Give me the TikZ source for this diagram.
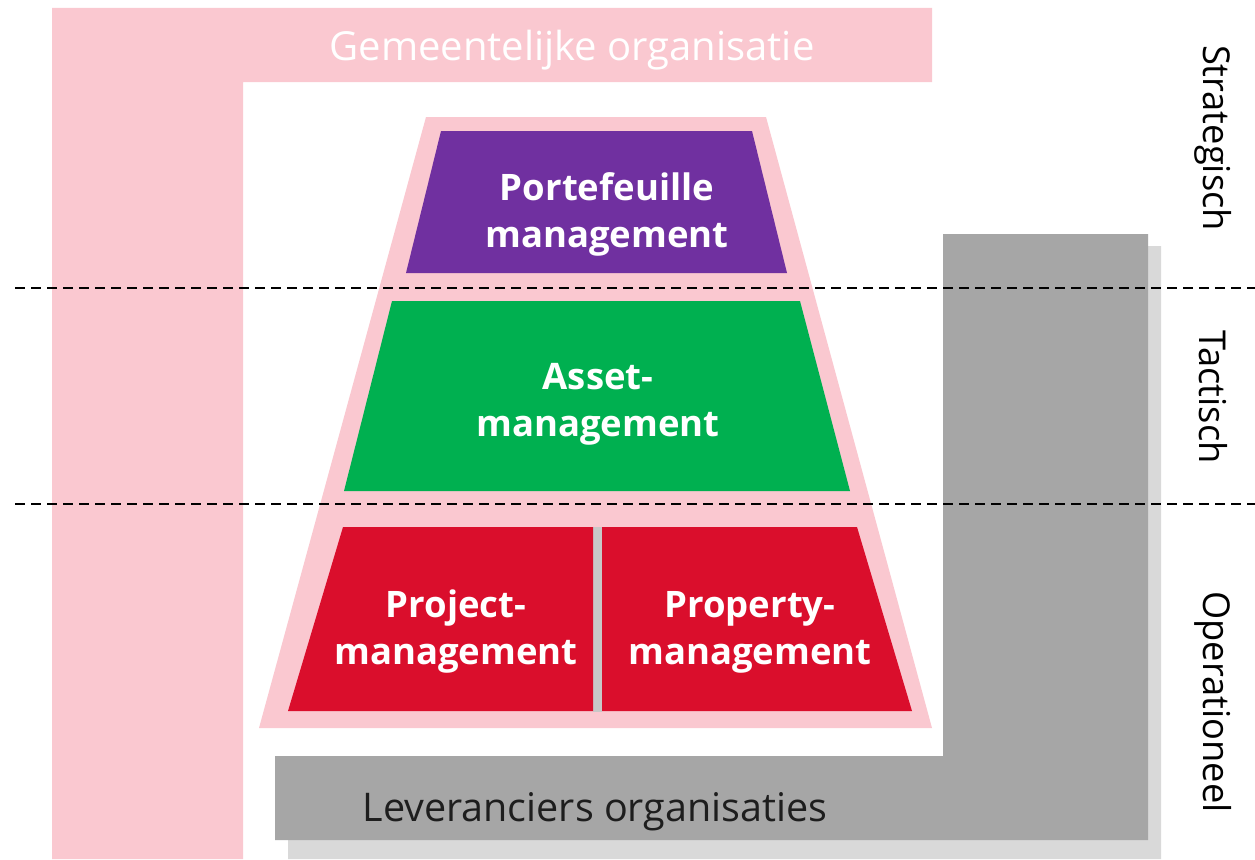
\documentclass[tikz,border=0pt]{standalone}
\usepackage{fontspec}
\setmainfont{Open Sans}
\usetikzlibrary{calc}
\definecolor{pinkbg}{RGB}{250,200,208}
\definecolor{purplebox}{RGB}{112,48,160}
\definecolor{greenbox}{RGB}{0,176,80}
\definecolor{redbox}{RGB}{218,14,44}
\definecolor{graybar}{RGB}{166,166,166}
\definecolor{grayshadow}{RGB}{217,217,217}
\definecolor{gapgray}{RGB}{200,200,200}
\definecolor{darktext}{RGB}{30,30,30}
\tikzset{
  boxtext/.style={text=white, align=center, font=\fontsize{36.5}{47}\selectfont\bfseries, inner sep=0pt},
  bartext/.style={inner sep=0pt},
  sidelabel/.style={rotate=-90, font=\fontsize{37}{44}\selectfont, inner sep=0pt, text=black},
  levelline/.style={dashed, dash pattern=on 10pt off 6pt, line width=1.5pt, black}
}
\begin{document}
\begin{tikzpicture}[x=1pt,y=-1pt]
\useasboundingbox (0,0) rectangle (1255,859);
\fill[white] (0,0) rectangle (1255,859);
% pink L (gemeentelijke organisatie)
\fill[pinkbg] (52,8) -- (932,8) -- (932,82) -- (243,82) -- (243,859) -- (52,859) -- cycle;
\node[bartext, text=white, font=\fontsize{40}{46}\selectfont] (gemeente) at (572,50) {Gemeentelijke organisatie};
% gray L shadow and bar (leveranciers)
\fill[grayshadow] (955,246) -- (1161,246) -- (1161,859) -- (288,859) -- (288,768) -- (955,768) -- cycle;
\fill[graybar] (943,234) -- (1148,234) -- (1148,840) -- (275,840) -- (275,756) -- (943,756) -- cycle;
\node[bartext, text=darktext, font=\fontsize{39.5}{46}\selectfont] (lev) at (595,812) {Leveranciers organisaties};
% pyramid background
\fill[pinkbg] (426,117) -- (766,117) -- (932,728) -- (259,728) -- cycle;
% purple
\fill[purplebox] (441,131) -- (752,131) -- (787,273) -- (406,273) -- cycle;
\node[boxtext] (portef) at (607,214) {Portefeuille\\management};
% green
\fill[greenbox] (392,301) -- (800,301) -- (850,491) -- (344,491) -- cycle;
\node[boxtext] (asset) at (598,404) {Asset-\\management};
% red
\fill[gapgray] (593,527) rectangle (602,712);
\fill[redbox] (343,527) -- (593,527) -- (593,711) -- (288,711) -- cycle;
\fill[redbox] (602,527) -- (857,527) -- (912,711) -- (602,711) -- cycle;
\node[boxtext] (project) at (456,632) {Project-\\management};
\node[boxtext] (property) at (750,632) {Property-\\management};
% level lines
\coordinate (l1a) at (15,288); \coordinate (l1b) at (1255,288);
\coordinate (l2a) at (15,504); \coordinate (l2b) at (1255,504);
\draw[levelline] (l1a) -- (l1b);
\draw[levelline] (l2a) -- (l2b);
% side labels
\node[sidelabel] (strat) at (1213,138) {\scalebox{0.98}[1]{Strategisch}};
\node[sidelabel] (tact) at (1213,397) {\scalebox{0.98}[1]{Tactisch}};
\node[sidelabel] (oper) at (1213,702) {\scalebox{0.98}[1]{Operationeel}};
\end{tikzpicture}
\end{document}
